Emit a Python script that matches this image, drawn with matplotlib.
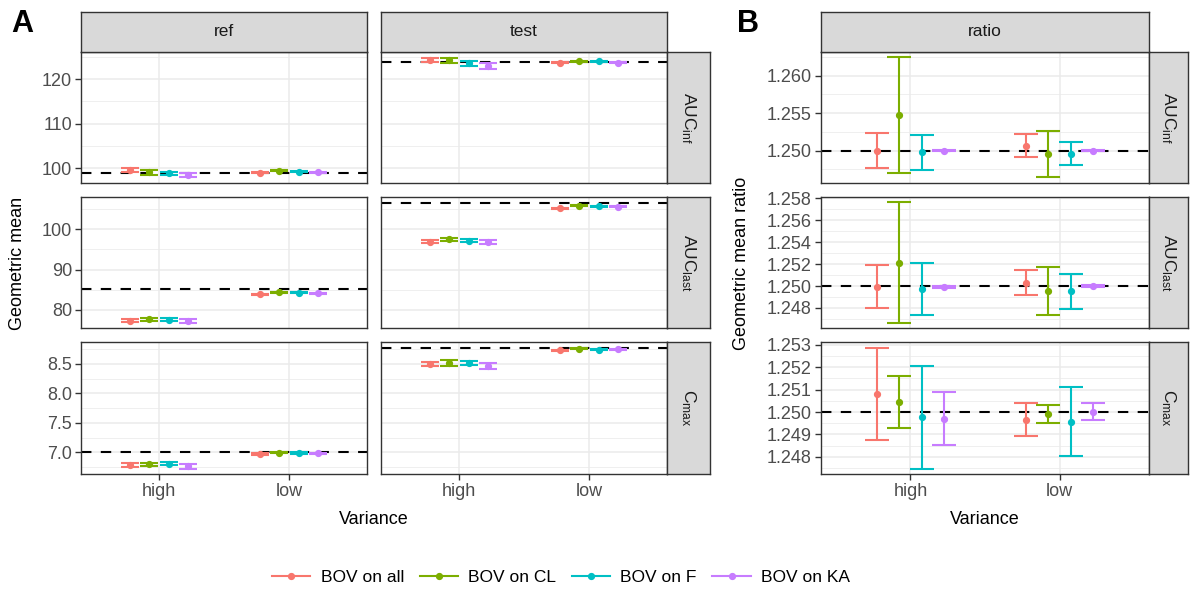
import matplotlib.pyplot as plt
from matplotlib.lines import Line2D
from matplotlib.ticker import MultipleLocator, FormatStrFormatter

plt.rcParams.update({
    "font.family": ["Liberation Sans", "DejaVu Sans"],
    "mathtext.fontset": "custom",
    "mathtext.rm": "Liberation Sans",
    "mathtext.it": "Liberation Sans:italic",
})

W, H = 1191, 590

variance = ["high", "low"]
groups = ["BOV on all", "BOV on CL", "BOV on F", "BOV on KA"]
colors = ["#F8766D", "#7CAE00", "#00BFC4", "#C77CFF"]
param_labels = [r"AUC$_{\mathrm{inf}}$", r"AUC$_{\mathrm{last}}$", r"C$_{\mathrm{max}}$"]

# panel A: geometric means (rows = variance high/low, cols = BOV group) and half-width of CI
ref_aucinf = [[99.69, 99.09, 98.87, 98.49], [99.00, 99.45, 99.25, 99.10]]
ref_aucinf_err = [[0.45, 0.60, 0.37, 0.53], [0.15, 0.15, 0.15, 0.15]]
test_aucinf = [[124.40, 124.26, 123.52, 123.03], [123.70, 124.00, 124.00, 123.70]]
test_aucinf_err = [[0.45, 0.60, 0.45, 0.70], [0.18, 0.18, 0.18, 0.18]]
aucinf_line = [99.0, 123.8]

ref_auclast = [[77.35, 77.72, 77.52, 77.31], [83.90, 84.40, 84.30, 84.10]]
ref_auclast_err = [[0.35, 0.37, 0.35, 0.53], [0.15, 0.15, 0.15, 0.15]]
test_auclast = [[96.95, 97.49, 97.17, 96.80], [105.20, 105.80, 105.70, 105.60]]
test_auclast_err = [[0.35, 0.45, 0.37, 0.50], [0.15, 0.15, 0.15, 0.15]]
auclast_line = [85.14, 106.6]

ref_cmax = [[6.784, 6.796, 6.804, 6.762], [6.971, 6.993, 6.988, 6.983]]
ref_cmax_err = [[0.028, 0.028, 0.025, 0.040], [0.010, 0.010, 0.010, 0.010]]
test_cmax = [[8.499, 8.516, 8.519, 8.465], [8.735, 8.757, 8.745, 8.750]]
test_cmax_err = [[0.036, 0.050, 0.040, 0.050], [0.010, 0.010, 0.010, 0.010]]
cmax_line = [7.0, 8.769]

# panel B: geometric mean ratio with lower / upper limits
ratio_aucinf = [[1.25000, 1.25472, 1.24979, 1.25000], [1.25067, 1.24952, 1.24956, 1.25000]]
ratio_aucinf_lo = [[1.24773, 1.24699, 1.24743, 1.24992], [1.24912, 1.24649, 1.24805, 1.24992]]
ratio_aucinf_hi = [[1.25240, 1.26253, 1.25205, 1.25008], [1.25223, 1.25267, 1.25116, 1.25008]]

ratio_auclast = [[1.24994, 1.25210, 1.24973, 1.24988], [1.25027, 1.24954, 1.24954, 1.25000]]
ratio_auclast_lo = [[1.24802, 1.24665, 1.24738, 1.24980], [1.24918, 1.24735, 1.24793, 1.24995]]
ratio_auclast_hi = [[1.25189, 1.25764, 1.25207, 1.24996], [1.25143, 1.25171, 1.25109, 1.25005]]

ratio_cmax = [[1.25079, 1.25044, 1.24979, 1.24970], [1.24966, 1.24991, 1.24955, 1.25001]]
ratio_cmax_lo = [[1.24875, 1.24927, 1.24745, 1.24852], [1.24894, 1.24952, 1.24804, 1.24963]]
ratio_cmax_hi = [[1.25285, 1.25161, 1.25207, 1.25090], [1.25039, 1.25031, 1.25111, 1.25040]]
ratio_line = 1.25

GREY20 = "#333333"
GRID = "#EBEBEB"
STRIP = "#D9D9D9"
TICKTXT = "#4D4D4D"
DODGE = [-0.225, -0.075, 0.075, 0.225]

fig = plt.figure(figsize=(W / 100, H / 100), dpi=100)


def px_axes(x0, y0, x1, y1):
    return fig.add_axes([x0 / W, 1 - y1 / H, (x1 - x0) / W, (y1 - y0) / H])


def style(ax, major, minor, fmt, ylim, show_y, show_x):
    ax.set_xlim(0.4, 2.6)
    ax.set_ylim(*ylim)
    ax.set_xticks([1, 2])
    ax.set_xticklabels(variance if show_x else [])
    ax.yaxis.set_major_locator(MultipleLocator(major))
    ax.yaxis.set_minor_locator(MultipleLocator(minor))
    ax.yaxis.set_major_formatter(FormatStrFormatter(fmt))
    ax.grid(True, which="major", color=GRID, lw=1.1, zorder=0)
    ax.grid(True, which="minor", axis="y", color=GRID, lw=0.55, zorder=0)
    ax.set_axisbelow(True)
    for s in ax.spines.values():
        s.set_color(GREY20)
        s.set_linewidth(1.0)
    ax.tick_params(which="minor", length=0)
    ax.tick_params(which="major", length=4.5, width=1.0, color=GREY20,
                   labelcolor=TICKTXT, labelsize=13, pad=2)
    ax.tick_params(axis="x", bottom=show_x)
    ax.tick_params(axis="y", left=show_y, labelleft=show_y)


def draw(ax, mean, lo, hi, line, capsize):
    ax.axhline(line, color="black", lw=1.5, dashes=(5, 4.5), zorder=2)
    for g in range(4):
        for v in range(2):
            x = v + 1 + DODGE[g]
            m = mean[v][g]
            ax.errorbar([x], [m], yerr=[[m - lo[v][g]], [hi[v][g] - m]], fmt="none",
                        ecolor=colors[g], elinewidth=1.5, capsize=capsize, capthick=1.5, zorder=3)
            ax.plot([x], [m], "o", color=colors[g], ms=4.2, zorder=4)


def strip(x0, y0, x1, y1, label, rotation):
    ax = px_axes(x0, y0, x1, y1)
    ax.set_facecolor(STRIP)
    ax.set_xticks([])
    ax.set_yticks([])
    for s in ax.spines.values():
        s.set_color(GREY20)
        s.set_linewidth(1.0)
    ax.text(0.5, 0.5, label, ha="center", va="center", fontsize=12.5, color="#1A1A1A",
            rotation=rotation, transform=ax.transAxes)


rows = [(52, 183), (197, 328), (342, 474)]

panelA = [
    (ref_aucinf, ref_aucinf_err, test_aucinf, test_aucinf_err, aucinf_line, 10, 5, "%d", (96.7, 126.1)),
    (ref_auclast, ref_auclast_err, test_auclast, test_auclast_err, auclast_line, 10, 5, "%d", (75.5, 108.0)),
    (ref_cmax, ref_cmax_err, test_cmax, test_cmax_err, cmax_line, 0.5, 0.25, "%.1f", (6.63, 8.874)),
]
panelB = [
    (ratio_aucinf, ratio_aucinf_lo, ratio_aucinf_hi, 0.005, 0.0025, (1.24569, 1.26316)),
    (ratio_auclast, ratio_auclast_lo, ratio_auclast_hi, 0.002, 0.001, (1.24617, 1.25812)),
    (ratio_cmax, ratio_cmax_lo, ratio_cmax_hi, 0.001, 0.0005, (1.24723, 1.25313)),
]

for r, (y0, y1) in enumerate(rows):
    ref, ref_e, test, test_e, line, major, minor, fmt, ylim = panelA[r]
    last = r == 2
    ax = px_axes(81, y0, 367, y1)
    style(ax, major, minor, fmt, ylim, True, last)
    lo = [[m - e for m, e in zip(mr, er)] for mr, er in zip(ref, ref_e)]
    hi = [[m + e for m, e in zip(mr, er)] for mr, er in zip(ref, ref_e)]
    draw(ax, ref, lo, hi, line[0], 6.2)

    ax = px_axes(381, y0, 667, y1)
    style(ax, major, minor, fmt, ylim, False, last)
    lo = [[m - e for m, e in zip(mr, er)] for mr, er in zip(test, test_e)]
    hi = [[m + e for m, e in zip(mr, er)] for mr, er in zip(test, test_e)]
    draw(ax, test, lo, hi, line[1], 6.2)
    strip(667, y0, 710, y1, param_labels[r], 270)

    mean, lo, hi, major, minor, ylim = panelB[r]
    ax = px_axes(821, y0, 1149, y1)
    style(ax, major, minor, "%.3f", ylim, True, last)
    draw(ax, mean, lo, hi, ratio_line, 8.6)
    strip(1149, y0, 1188, y1, param_labels[r], 270)

strip(81, 12, 367, 52, "ref", 0)
strip(381, 12, 667, 52, "test", 0)
strip(821, 12, 1149, 52, "ratio", 0)

fig.text(11 / W, 1 - 24 / H, "A", fontsize=22, fontweight="bold", va="center", ha="left")
fig.text(737 / W, 1 - 24 / H, "B", fontsize=22, fontweight="bold", va="center", ha="left")
fig.text(374 / W, 1 - 519 / H, "Variance", fontsize=13, ha="center", va="center")
fig.text(985 / W, 1 - 519 / H, "Variance", fontsize=13, ha="center", va="center")
fig.text(18 / W, 1 - 263 / H, "Geometric mean", fontsize=13, ha="center", va="center", rotation=90)
fig.text(742 / W, 1 - 263 / H, "Geometric mean ratio", fontsize=13, ha="center", va="center",
         rotation=90)

handles = [Line2D([], [], color=c, lw=1.5, marker="o", ms=4.2) for c in colors]
fig.legend(handles, groups, loc="center", bbox_to_anchor=(561 / W, 1 - 577 / H), ncol=4,
           frameon=False, fontsize=12.5, handlelength=2.2, handletextpad=0.6, columnspacing=0.9)

fig.savefig("out.png", dpi=100)
